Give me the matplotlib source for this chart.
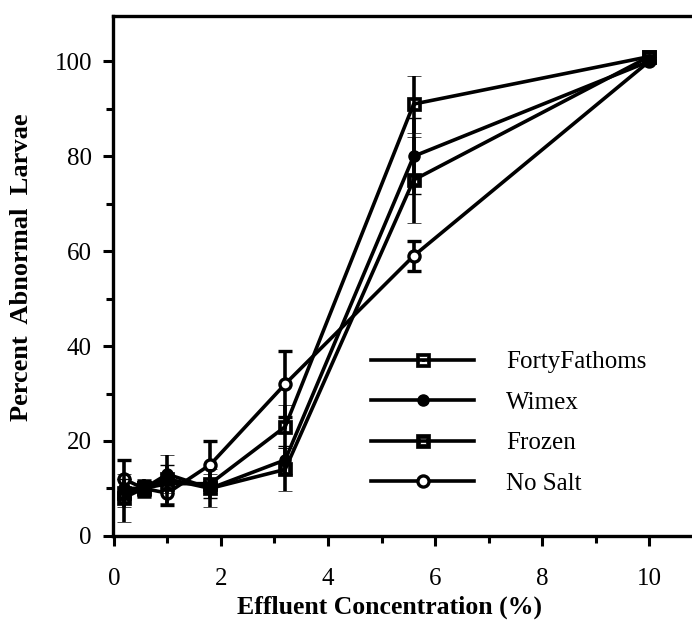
import numpy as np
import matplotlib.pyplot as plt
from matplotlib.path import Path
from matplotlib.lines import Line2D
from matplotlib.ticker import MultipleLocator

plt.rcParams['font.family'] = ['Liberation Serif', 'DejaVu Serif']

# Effluent concentrations tested (%)
conc = [0.18, 0.56, 1.0, 1.8, 3.2, 5.6, 10.0]

forty_fathoms = [9, 10, 11, 11, 23, 91, 101]
forty_fathoms_err = [3, 1.5, 2, 2, 4.5, 6, 0]

wimex = [10, 10, 13, 10, 16, 80, 100]
wimex_err = [2, 1.5, 2, 2, 3, 8, 0]

frozen = [8, 10, 12, 10, 14, 75, 101]
frozen_err = [5, 2, 5, 4, 4.5, 9, 0]

no_salt = [12, 10, 9, 15, 32, 59, 100]
no_salt_err = [4, 1.5, 2.5, 5, 7, 3.2, 0]

labels = ['FortyFathoms', 'Wimex', 'Frozen', 'No Salt']


def square_marker(hole, dot=0.0):
    # square outline with a white hole, optionally a dot in the middle
    def sq(h, ccw=True):
        pts = [(-h, -h), (h, -h), (h, h), (-h, h)]
        if not ccw:
            pts = pts[::-1]
        return pts + [pts[0]]
    verts = sq(1.0) + sq(hole, ccw=False)
    codes = [Path.MOVETO] + [Path.LINETO] * 3 + [Path.CLOSEPOLY]
    codes = codes * 2
    if dot:
        verts += sq(dot)
        codes += [Path.MOVETO] + [Path.LINETO] * 3 + [Path.CLOSEPOLY]
    return Path(verts, codes)


ff_marker = square_marker(0.55, dot=0.17)
frozen_marker = square_marker(0.38)

lw = 2.6
styles = {
    'FortyFathoms': dict(marker=ff_marker, ms=10, mfc='black', mec='black', mew=0.5),
    'Wimex': dict(marker='o', ms=8, mfc='black', mec='black', mew=1),
    'Frozen': dict(marker=frozen_marker, ms=10, mfc='black', mec='black', mew=0.5),
    'No Salt': dict(marker='o', ms=8, mfc='white', mec='black', mew=2.4),
}

fig = plt.figure(figsize=(6.92, 6.26), dpi=100)
ax = fig.add_axes([0.163, 0.144, 0.837, 0.830])

series = [('No Salt', no_salt, no_salt_err, 3),
          ('Frozen', frozen, frozen_err, 4),
          ('Wimex', wimex, wimex_err, 5),
          ('FortyFathoms', forty_fathoms, forty_fathoms_err, 6)]
for name, vals, err, z in series:
    ax.errorbar(conc, vals, yerr=err, color='black', lw=lw, elinewidth=lw,
                capsize=5, capthick=lw, zorder=z, **styles[name])

ax.set_xlim(-0.02, 10.8)
ax.set_ylim(0, 109.5)
ax.xaxis.set_major_locator(MultipleLocator(2))
ax.xaxis.set_minor_locator(MultipleLocator(1))
ax.yaxis.set_major_locator(MultipleLocator(20))
ax.yaxis.set_minor_locator(MultipleLocator(10))

for side in ['left', 'bottom', 'top']:
    ax.spines[side].set_linewidth(2.4)
ax.spines['right'].set_visible(False)

ax.tick_params(which='major', direction='out', length=7, width=2.2,
               labelsize=18)
ax.tick_params(which='minor', direction='out', length=5, width=2.2)
ax.tick_params(axis='x', which='major', pad=16)
ax.tick_params(axis='y', which='major', pad=8)
ax.tick_params(top=False, which='both')

ax.set_xlabel('Effluent Concentration (%)', fontsize=18.5, fontweight='bold')
ax.set_ylabel('Percent  Abnormal  Larvae', fontsize=19, fontweight='bold')
ax.xaxis.set_label_coords(0.477, -0.115)
ax.yaxis.set_label_coords(-0.138, 0.517)

handles = [Line2D([], [], color='black', lw=lw, **styles[n]) for n in labels]
ax.legend(handles, labels, loc='upper left', bbox_to_anchor=(0.425, 0.38),
          frameon=False, fontsize=18, handlelength=4.1, handletextpad=1.3,
          labelspacing=0.72, borderpad=0)

fig.savefig('out.png', dpi=100)
